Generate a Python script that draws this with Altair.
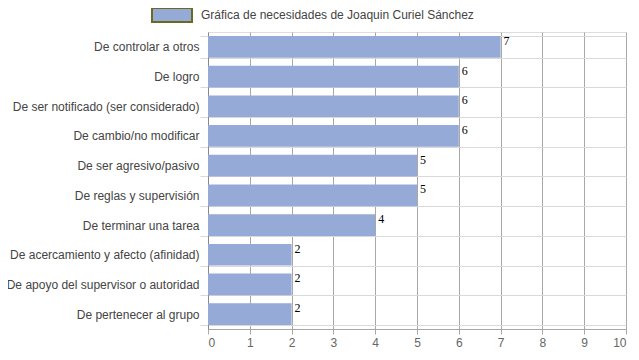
import altair as alt
import pandas as pd

categories = [
    "De controlar a otros",
    "De logro",
    "De ser notificado (ser considerado)",
    "De cambio/no modificar",
    "De ser agresivo/pasivo",
    "De reglas y supervisión",
    "De terminar una tarea",
    "De acercamiento y afecto (afinidad)",
    "De apoyo del supervisor o autoridad",
    "De pertenecer al grupo",
]
values = [7, 6, 6, 6, 5, 5, 4, 2, 2, 2]
series_name = "Gráfica de necesidades de Joaquin Curiel Sánchez"

df = pd.DataFrame({"cat": categories, "val": values, "serie": [series_name] * len(values)})

FONT = "Liberation Sans"

y_enc = alt.Y(
    "cat:N",
    sort=categories,
    title=None,
    scale=alt.Scale(paddingInner=0.27, paddingOuter=0.135),
    axis=alt.Axis(
        tickBand="extent",
        grid=True,
        gridColor="#d9d9d9",
        tickColor="#d9d9d9",
        tickSize=8,
        domainColor="#888888",
        labelColor="#444444",
        labelFontSize=12,
        labelFont=FONT,
        labelPadding=1,
        labelLimit=300,
    ),
)

bars = alt.Chart(df).mark_bar(color="#95AAD6").encode(
    x=alt.X(
        "val:Q",
        title=None,
        scale=alt.Scale(domain=[0, 10], nice=False),
        axis=alt.Axis(
            values=list(range(0, 11)),
            grid=True,
            gridColor="#a8a8a8",
            tickColor="#a8a8a8",
            tickSize=5,
            domainColor="#a8a8a8",
            labelColor="#666666",
            labelFontSize=12,
            labelFont=FONT,
            labelPadding=3,
        ),
    ),
    y=y_enc,
    color=alt.Color(
        "serie:N",
        scale=alt.Scale(domain=[series_name], range=["#95AAD6"]),
        legend=alt.Legend(
            title=None,
            orient="none",
            legendX=-57,
            legendY=-38,
            symbolType="M-1,-0.35L1,-0.35L1,0.35L-1,0.35Z",
            symbolSize=1600,
            symbolStrokeColor="#6b6b1f",
            symbolStrokeWidth=2,
            symbolOpacity=1,
            labelFontSize=12,
            labelColor="#444444",
            labelFont=FONT,
            labelOffset=8,
            labelLimit=400,
            padding=0,
        ),
    ),
)

labels = alt.Chart(df).mark_text(
    align="left", baseline="middle", dx=3, dy=-6, font="Liberation Serif", fontSize=12, color="#000000"
).encode(
    x="val:Q",
    y=alt.Y("cat:N", sort=categories),
    text="val:Q",
)

chart = (
    alt.layer(bars, labels)
    .properties(
        width=418,
        height=297,
        autosize="none",
        padding={"left": 200, "top": 24, "right": 5, "bottom": 19},
    )
    .configure_view(stroke=None)
    .configure(background="#ffffff")
)

chart.save("out.html", embed_options={"renderer": "svg", "actions": False})
